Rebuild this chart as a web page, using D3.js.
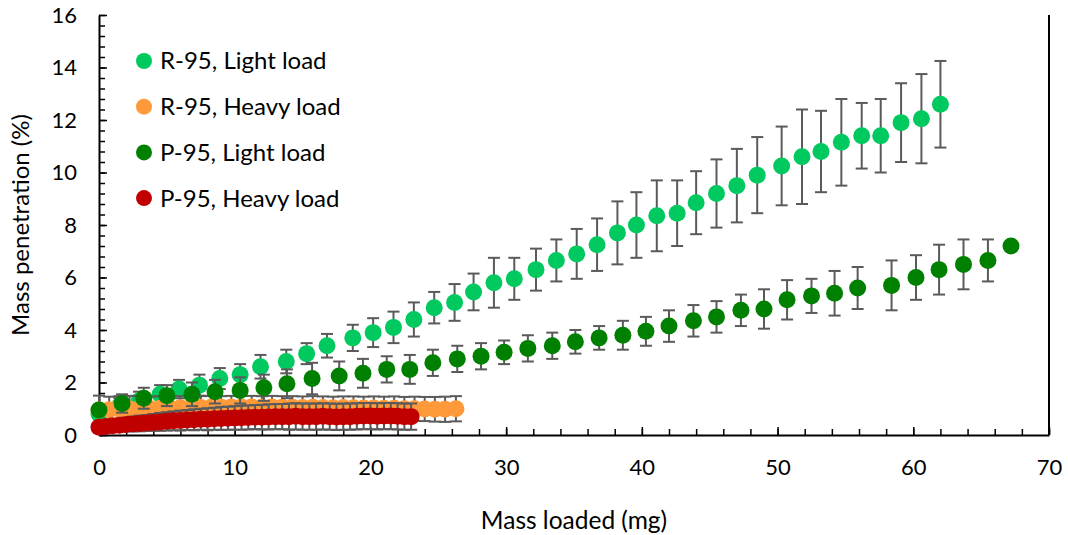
<!DOCTYPE html>
<html>
<head>
<meta charset="utf-8">
<script src="https://cdn.jsdelivr.net/npm/d3@7"></script>
<style>
  body { margin: 0; background: #fff; }
  text { font-family: Lato, "Open Sans", sans-serif; fill: #000; }
</style>
</head>
<body>
<svg width="1068" height="535"></svg>
<script>
// series, in legend (= draw) order
const seriesNames = ['R-95, Light load', 'R-95, Heavy load', 'P-95, Light load', 'P-95, Heavy load'];
const seriesColors = ['#00C95F', '#FF9A3A', '#008000', '#C00000'];

const r95LightX = [0, 1.5, 2.95, 4.5, 5.9, 7.4, 8.9, 10.4, 11.9, 13.8, 15.3, 16.8, 18.7, 20.2, 21.7, 23.2, 24.7, 26.2, 27.6, 29.1, 30.6, 32.2, 33.7, 35.2, 36.7, 38.2, 39.6, 41.1, 42.6, 44.0, 45.5, 47.0, 48.5, 50.3, 51.8, 53.2, 54.7, 56.2, 57.6, 59.1, 60.6, 62.0];
const r95LightY = [0.8, 1.1, 1.3, 1.55, 1.75, 1.9, 2.15, 2.3, 2.6, 2.8, 3.1, 3.4, 3.7, 3.9, 4.1, 4.4, 4.85, 5.05, 5.45, 5.8, 5.95, 6.3, 6.65, 6.9, 7.25, 7.7, 8.0, 8.35, 8.45, 8.85, 9.2, 9.5, 9.9, 10.25, 10.6, 10.8, 11.15, 11.4, 11.4, 11.9, 12.05, 12.6];
const r95LightErr = [0.3, 0.3, 0.35, 0.35, 0.35, 0.4, 0.4, 0.4, 0.45, 0.45, 0.4, 0.45, 0.5, 0.55, 0.6, 0.65, 0.6, 0.7, 0.7, 0.95, 0.8, 0.8, 0.8, 0.95, 1.0, 1.2, 1.25, 1.35, 1.25, 1.2, 1.3, 1.4, 1.45, 1.5, 1.8, 1.55, 1.65, 1.25, 1.4, 1.5, 1.7, 1.65];

const r95HeavyX = [0, 0.75, 1.5, 2.25, 3, 3.75, 4.5, 5.25, 6, 6.75, 7.5, 8.25, 9, 9.75, 10.5, 11.25, 12, 12.75, 13.5, 14.25, 15, 15.75, 16.5, 17.25, 18, 18.75, 19.5, 20.25, 21, 21.75, 22.5, 23.25, 24, 24.75, 25.5, 26.3];
const r95HeavyY = [0.95, 0.96, 0.98, 0.99, 1.0, 1.01, 1.02, 1.03, 1.04, 1.05, 1.05, 1.06, 1.06, 1.07, 1.07, 1.07, 1.06, 1.07, 1.06, 1.06, 1.05, 1.06, 1.05, 1.04, 1.05, 1.04, 1.03, 1.03, 1.02, 1.02, 1.0, 1.0, 0.99, 0.98, 0.98, 1.0];
const r95HeavyErr = [0.55, 0.5, 0.5, 0.5, 0.48, 0.46, 0.45, 0.45, 0.44, 0.44, 0.43, 0.43, 0.42, 0.42, 0.42, 0.42, 0.42, 0.42, 0.42, 0.42, 0.42, 0.42, 0.42, 0.42, 0.42, 0.43, 0.43, 0.44, 0.44, 0.45, 0.45, 0.46, 0.46, 0.47, 0.48, 0.48];

const p95LightX = [0, 1.7, 3.3, 5.0, 6.85, 8.55, 10.4, 12.15, 13.85, 15.7, 17.7, 19.45, 21.2, 22.9, 24.6, 26.4, 28.15, 29.85, 31.6, 33.4, 35.1, 36.85, 38.6, 40.3, 42.0, 43.8, 45.5, 47.3, 49.0, 50.7, 52.5, 54.2, 55.9, 58.4, 60.2, 61.9, 63.7, 65.5, 67.2];
const p95LightY = [0.95, 1.2, 1.4, 1.5, 1.55, 1.65, 1.7, 1.8, 1.95, 2.15, 2.25, 2.35, 2.5, 2.5, 2.75, 2.9, 3.0, 3.15, 3.3, 3.4, 3.55, 3.7, 3.8, 3.95, 4.15, 4.35, 4.5, 4.75, 4.8, 5.15, 5.3, 5.4, 5.6, 5.7, 6.0, 6.3, 6.5, 6.65, 7.2];
const p95LightErr = [0.2, 0.35, 0.4, 0.4, 0.45, 0.45, 0.5, 0.5, 0.55, 0.6, 0.55, 0.55, 0.5, 0.55, 0.5, 0.5, 0.5, 0.45, 0.5, 0.5, 0.45, 0.45, 0.55, 0.55, 0.6, 0.6, 0.6, 0.6, 0.75, 0.75, 0.65, 0.85, 0.8, 0.95, 0.85, 0.95, 0.95, 0.8, 0.1];

const p95HeavyX = [0, 0.5, 1, 1.5, 2, 2.5, 3, 3.5, 4, 4.5, 5, 5.5, 6, 6.5, 7, 7.5, 8, 8.5, 9, 9.5, 10, 10.5, 11, 11.5, 12, 12.5, 13, 13.5, 14, 14.5, 15, 15.5, 16, 16.5, 17, 17.5, 18, 18.5, 19, 19.5, 20, 20.5, 21, 21.5, 22, 22.5, 23];
const p95HeavyY = [0.3, 0.32, 0.35, 0.37, 0.4, 0.42, 0.44, 0.46, 0.48, 0.5, 0.52, 0.54, 0.55, 0.57, 0.58, 0.6, 0.6, 0.62, 0.63, 0.64, 0.65, 0.66, 0.67, 0.68, 0.68, 0.69, 0.7, 0.7, 0.7, 0.71, 0.7, 0.7, 0.7, 0.71, 0.7, 0.69, 0.7, 0.7, 0.71, 0.72, 0.72, 0.71, 0.72, 0.72, 0.71, 0.7, 0.7];
const p95HeavyErr = [0.2, 0.2, 0.22, 0.24, 0.26, 0.28, 0.3, 0.3, 0.32, 0.34, 0.35, 0.36, 0.38, 0.38, 0.4, 0.4, 0.42, 0.42, 0.44, 0.44, 0.45, 0.46, 0.46, 0.46, 0.47, 0.48, 0.48, 0.48, 0.5, 0.5, 0.5, 0.5, 0.5, 0.5, 0.5, 0.5, 0.5, 0.5, 0.5, 0.5, 0.5, 0.5, 0.5, 0.5, 0.5, 0.5, 0.5];

const xTickValues = [0, 10, 20, 30, 40, 50, 60, 70];
const yTickValues = [0, 2, 4, 6, 8, 10, 12, 14, 16];

const allX = [r95LightX, r95HeavyX, p95LightX, p95HeavyX];
const allY = [r95LightY, r95HeavyY, p95LightY, p95HeavyY];
const allErr = [r95LightErr, r95HeavyErr, p95LightErr, p95HeavyErr];

const series = seriesNames.map((name, i) => ({
  name,
  color: seriesColors[i],
  points: allX[i].map((x, j) => ({ x, y: allY[i][j], e: allErr[i][j] })),
}));

const svg = d3.select('svg');
const plotLeft = 99, plotRight = 1049, plotTop = 15, plotBottom = 435;

const x = d3.scaleLinear().domain([0, 70]).range([plotLeft, plotRight]);
const y = d3.scaleLinear().domain([0, 16]).range([plotBottom, plotTop]);

// minor ticks (inside)
svg.append('g')
  .attr('transform', `translate(0,${plotBottom})`)
  .call(d3.axisBottom(x).tickValues(d3.range(0, 71, 2)).tickSize(-6).tickFormat(''))
  .call((g) => g.select('.domain').remove())
  .call((g) => g.selectAll('line').attr('stroke', '#000').attr('stroke-width', 1.5));

svg.append('g')
  .attr('transform', `translate(${plotLeft},0)`)
  .call(d3.axisLeft(y).tickValues(d3.range(0, 16.01, 0.4)).tickSize(-6).tickFormat(''))
  .call((g) => g.select('.domain').remove())
  .call((g) => g.selectAll('line').attr('stroke', '#000').attr('stroke-width', 1.5));

// major ticks + labels
const xAxis = svg.append('g')
  .attr('transform', `translate(0,${plotBottom})`)
  .call(d3.axisBottom(x).tickValues(xTickValues).tickSize(-8).tickPadding(24).tickSizeOuter(0));

const yAxis = svg.append('g')
  .attr('transform', `translate(${plotLeft},0)`)
  .call(d3.axisLeft(y).tickValues(yTickValues).tickSize(-8).tickPadding(22).tickSizeOuter(0));

[xAxis, yAxis].forEach((g) => {
  g.select('.domain').attr('stroke', '#000').attr('stroke-width', 2);
  g.selectAll('line').attr('stroke', '#000').attr('stroke-width', 1.5);
  g.selectAll('text').style('font-size', '22px').attr('fill', '#000');
});

// right border of the plot area
svg.append('line')
  .attr('x1', plotRight).attr('x2', plotRight)
  .attr('y1', plotTop).attr('y2', plotBottom)
  .attr('stroke', '#000')
  .attr('stroke-width', 2);

// series: error bars then markers
series.forEach((s) => {
  const g = svg.append('g');
  const bars = g.selectAll('g.err')
    .data(s.points.filter((d) => d.e > 0.12))
    .enter().append('g')
    .attr('stroke', '#5A5A5A')
    .attr('stroke-width', 2);

  bars.append('line')
    .attr('x1', (d) => x(d.x)).attr('x2', (d) => x(d.x))
    .attr('y1', (d) => y(d.y + d.e)).attr('y2', (d) => y(Math.max(0, d.y - d.e)));
  bars.append('line')
    .attr('x1', (d) => x(d.x) - 6).attr('x2', (d) => x(d.x) + 6)
    .attr('y1', (d) => y(d.y + d.e)).attr('y2', (d) => y(d.y + d.e));
  bars.append('line')
    .attr('x1', (d) => x(d.x) - 6).attr('x2', (d) => x(d.x) + 6)
    .attr('y1', (d) => y(Math.max(0, d.y - d.e))).attr('y2', (d) => y(Math.max(0, d.y - d.e)));

  g.selectAll('circle')
    .data(s.points)
    .enter().append('circle')
    .attr('cx', (d) => x(d.x))
    .attr('cy', (d) => y(d.y))
    .attr('r', 8.5)
    .attr('fill', s.color);
});

// legend
const legend = svg.append('g');
series.forEach((s, i) => {
  const ly = 61 + i * 45.7;
  legend.append('circle')
    .attr('cx', 144).attr('cy', ly).attr('r', 8)
    .attr('fill', s.color);
  legend.append('text')
    .attr('x', 160).attr('y', ly)
    .attr('dy', '0.35em')
    .style('font-size', '24px')
    .text(s.name);
});

// axis titles
svg.append('text')
  .attr('x', 574)
  .attr('y', 529)
  .attr('text-anchor', 'middle')
  .style('font-size', '24.5px')
  .text('Mass loaded (mg)');

svg.append('text')
  .attr('transform', `translate(29,${(plotTop + plotBottom) / 2}) rotate(-90)`)
  .attr('text-anchor', 'middle')
  .style('font-size', '24px')
  .text('Mass penetration (%)');
</script>
</body>
</html>
